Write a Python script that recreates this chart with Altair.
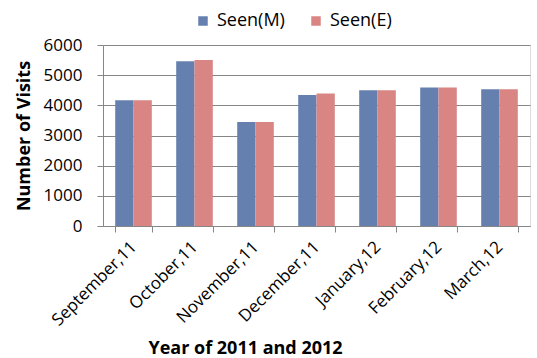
import altair as alt
import pandas as pd

months = ["September,11", "October,11", "November,11", "December,11",
          "January,12", "February,12", "March,12"]
seen_m = [4170, 5460, 3450, 4340, 4500, 4590, 4530]
seen_e = [4170, 5500, 3450, 4390, 4500, 4590, 4530]
series = ["Seen(M)", "Seen(E)"]

rows = []
for i, m in enumerate(months):
    rows.append({"month": m, "series": series[0], "visits": seen_m[i]})
    rows.append({"month": m, "series": series[1], "visits": seen_e[i]})
df = pd.DataFrame(rows)

FONT = "Open Sans"

chart = alt.Chart(df).mark_bar().encode(
    x=alt.X("month:N", sort=months,
            scale=alt.Scale(paddingInner=0.4, paddingOuter=0.2),
            axis=alt.Axis(title="Year of 2011 and 2012", labelAngle=-45,
                          labelAlign="right", labelBaseline="middle",
                          labelFontSize=17, labelFont=FONT, labelColor="#000",
                          labelPadding=12,
                          titleFont=FONT, titleFontSize=18, titleFontWeight="bold",
                          titleColor="#000", titleX=142, titleY=127,
                          titleAlign="center", titleBaseline="alphabetic",
                          tickBand="extent", tickSize=6, tickColor="#868686",
                          domainColor="#868686", grid=False)),
    xOffset=alt.XOffset("series:N", sort=series),
    y=alt.Y("visits:Q", scale=alt.Scale(domain=[0, 6000]),
            axis=alt.Axis(title="Number of Visits", values=[0, 1000, 2000, 3000, 4000, 5000, 6000],
                          format="d",
                          labelFontSize=17, labelFont=FONT, labelColor="#000",
                          labelPadding=15,
                          titleFont=FONT, titleFontSize=18, titleFontWeight="bold",
                          titleColor="#000", titlePadding=10,
                          tickSize=6, tickColor="#868686", domainColor="#868686",
                          gridColor="#868686", gridWidth=1)),
    color=alt.Color("series:N", sort=series,
                    scale=alt.Scale(domain=series, range=["#6580AE", "#D98584"]),
                    legend=alt.Legend(title=None, orient="none", direction="horizontal",
                                      legendX=91, legendY=-33, symbolType="square",
                                      symbolSize=90, symbolStrokeWidth=0,
                                      labelFont=FONT, labelFontSize=18, labelColor="#000",
                                      labelOffset=5, columnPadding=22)),
).properties(
    width=427, height=181,
    autosize=alt.AutoSizeParams(type="none"),
    padding={"left": 103, "top": 45, "right": 7, "bottom": 132},
).configure_view(stroke=None).configure(background="white")

chart.save("out.html", embed_options={"renderer": "svg", "actions": False})
